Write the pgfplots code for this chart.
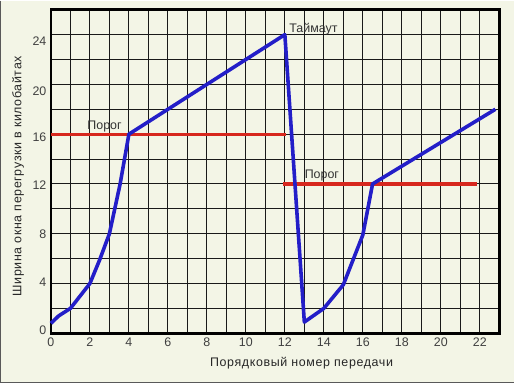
\documentclass[border=0pt]{standalone}
\usepackage{pgfplots}
\pgfplotsset{compat=1.18}
\usepackage{fontspec}
\setmainfont{Liberation Sans}
\newfontfamily\labfont[LetterSpace=5]{Liberation Sans}
\definecolor{bg}{RGB}{243,245,230}
\definecolor{myblue}{RGB}{35,30,200}
\definecolor{myred}{RGB}{215,40,30}
\begin{document}
\begin{tikzpicture}
\fill[bg] (0,0) rectangle (515bp,383bp);
\draw[black!65, line width=1.5bp] (0.75bp,383bp) -- (0.75bp,0.75bp) -- (515bp,0.75bp);
\begin{axis}[
  at={(51bp,50bp)}, anchor=south west,
  scale only axis, width=449bp, height=324bp,
  xmin=0, xmax=23, ymin=0, ymax=26,
  axis background/.style={fill=bg},
  axis line style={line width=2.8bp},
  xtick={0,2,...,22},
  minor xtick={1,3,...,23},
  ytick={0.27,4.08,7.95,11.9,15.73,19.46,23.47},
  yticklabels={0,4,8,12,16,20,24},
  minor ytick={0,2,...,26},
  xmajorgrids=true, xminorgrids=true,
  ymajorgrids=false, yminorgrids=true,
  major grid style={black!90, line width=1.1bp},
  minor grid style={black!90, line width=1.1bp},
  tick style={draw=none},
  /pgf/number format/assume math mode=true,
  tick label style={font=\fontsize{12.5}{14}\selectfont, text=black!75},
  xticklabel style={yshift=-1bp},
  yticklabel style={xshift=-1bp},
  xlabel={Порядковый номер передачи},
  ylabel={Ширина окна перегрузки в килобайтах},
  label style={font=\labfont\fontsize{12.5}{14}\selectfont, text=black!85},
  xlabel style={at={(axis description cs:0.559,-0.093)}, anchor=center},
  ylabel style={at={(axis description cs:-0.0735,0.485)}, anchor=center},
  clip=false,
]
\addplot[myred, line width=3.2bp] coordinates {(0,16) (12.05,16)};
\addplot[myred, line width=3.2bp] coordinates {(11.9,12) (21.85,12)};
\addplot[myblue, line width=3.6bp, line join=round] coordinates {
  (0,0.8) (0.4,1.4) (1,2) (1.5,3) (2,4) (2.5,5.9) (3,8) (3.55,12) (4,16)
  (7,19) (10,22) (12,24)
  (13,0.9) (14,2) (15,3.9) (16,7.9) (16.5,12) (22.8,18)
};
\node[anchor=base, font=\fontsize{12.5}{14}\selectfont, text=black!80] at (axis cs:2.75,16.35) {Порог};
\node[anchor=base, font=\fontsize{12.5}{14}\selectfont, text=black!80] at (axis cs:13.9,12.45) {Порог};
\node[anchor=base west, font=\fontsize{12.5}{14}\selectfont, text=black!80] at (axis cs:12.05,24.2) {Таймаут};
\end{axis}
\end{tikzpicture}
\end{document}
